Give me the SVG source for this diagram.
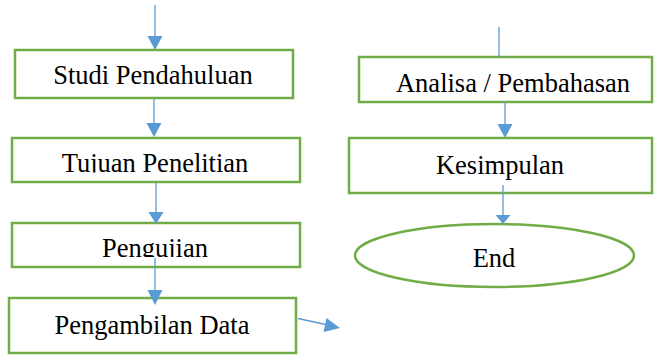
<svg xmlns="http://www.w3.org/2000/svg" width="655" height="356" viewBox="0 0 655 356">
<style>
.box{fill:#fff;stroke:#70AD47;stroke-width:2.5}
.t{font-size:26.5px;fill:#000;text-anchor:middle}
.c{stroke:#5B9BD5;stroke-width:1.3;fill:none}
.h{fill:#5B9BD5;stroke:none}
</style>
<defs>
<clipPath id="clipTujuan"><rect x="0" y="140" width="320" height="32.5"/></clipPath>
<clipPath id="clipPengujian"><rect x="0" y="225" width="320" height="32"/></clipPath>
</defs>
<rect width="655" height="356" fill="#fff"/>
<g font-family="Liberation Serif, Times New Roman, Noto Serif, serif">
<g id="studi"><rect class="box" x="15" y="50" width="278" height="48"/><text class="t" x="153" y="84">Studi Pendahuluan</text></g>
<g id="tujuan"><rect class="box" x="12" y="138" width="288" height="44"/><text class="t" x="155" y="172" clip-path="url(#clipTujuan)">Tujuan Penelitian</text></g>
<g id="pengujian"><rect class="box" x="12" y="223" width="288" height="44"/><text class="t" x="155" y="257" clip-path="url(#clipPengujian)">Pengujian</text></g>
<g id="pengambilan"><rect class="box" x="9" y="298" width="287" height="55"/><text class="t" x="152" y="334">Pengambilan Data</text></g>
<g id="analisa"><rect class="box" x="359" y="57" width="293" height="45"/><text class="t" x="513" y="92">Analisa / Pembahasan</text></g>
<g id="kesimpulan"><rect class="box" x="349" y="138" width="303" height="55"/><text class="t" x="500" y="174">Kesimpulan</text></g>
<g id="end"><ellipse cx="494.5" cy="255.5" rx="139.5" ry="31.5" fill="#fff" stroke="#70AD47" stroke-width="2.5"/><text class="t" x="494" y="267">End</text></g>
</g>
<g id="connectors">
<line class="c" x1="155" y1="5" x2="155" y2="37"/><polygon class="h" points="147.5,36 162.5,36 155,50"/>
<line class="c" x1="154" y1="99" x2="154" y2="124"/><polygon class="h" points="146.5,123 161.5,123 154,137"/>
<line class="c" x1="156" y1="183" x2="156" y2="214"/><polygon class="h" points="148.5,212 163.5,212 156,224"/>
<line class="c" x1="155" y1="258" x2="155" y2="291"/><polygon class="h" points="147.5,290 162.5,290 155,305"/>
<line class="c" x1="298" y1="318.5" x2="328" y2="325"/><polygon class="h" points="326.5,318 323.5,332 340,328"/>
<line class="c" x1="499" y1="27" x2="499" y2="57"/>
<line class="c" x1="505" y1="102" x2="505" y2="125"/><polygon class="h" points="497.5,124 512.5,124 505,138"/>
<line class="c" x1="503" y1="185" x2="503" y2="216"/><polygon class="h" points="495.5,215 510.5,215 503,224"/>
</g>
</svg>
